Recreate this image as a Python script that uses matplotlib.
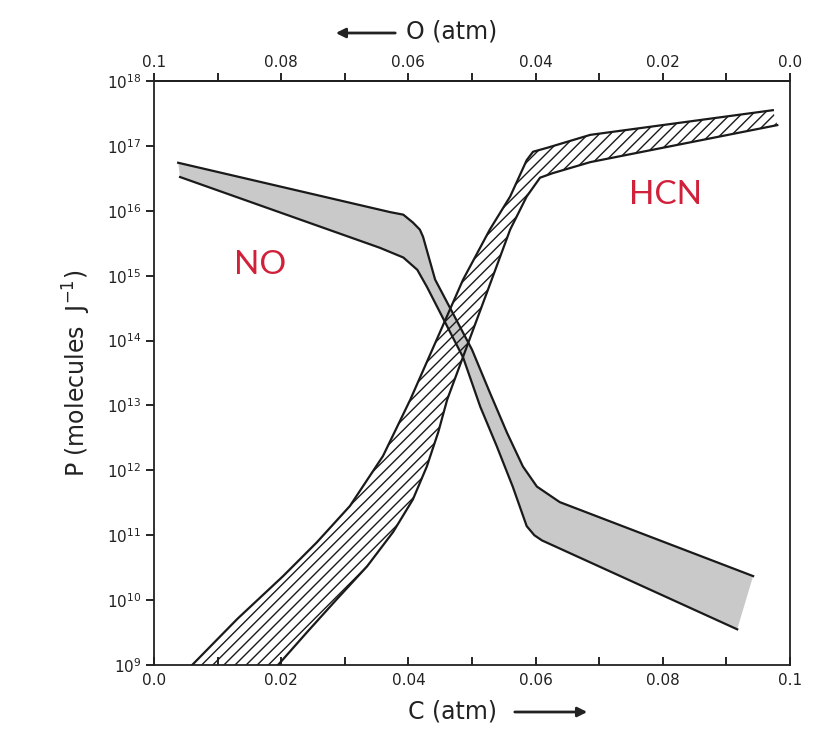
import numpy as np
import matplotlib
matplotlib.use("Agg")
import matplotlib.pyplot as plt

# ---- data ----
# NO band (grey): C (atm) and log10 P
no_upper_x = [0.0038, 0.0371, 0.0392, 0.0407, 0.0418, 0.0423, 0.0442, 0.0500, 0.0528,
              0.0555, 0.0580, 0.0602, 0.0638, 0.0942]
no_upper_logp = [16.74, 15.98, 15.94, 15.82, 15.71, 15.60, 14.94, 13.86, 13.20,
                 12.58, 12.06, 11.75, 11.51, 10.37]
no_lower_x = [0.0041, 0.0355, 0.0392, 0.0414, 0.0429, 0.0486, 0.0513, 0.0539, 0.0564,
              0.0586, 0.0598, 0.0610, 0.0917]
no_lower_logp = [16.52, 15.43, 15.28, 15.09, 14.83, 13.74, 12.98, 12.37, 11.75,
                 11.14, 11.00, 10.92, 9.55]

# HCN band (hatched)
hcn_upper_x = [0.0060, 0.0131, 0.0203, 0.0256, 0.0308, 0.0360, 0.0403, 0.0486,
               0.0528, 0.0560, 0.0586, 0.0596, 0.0618, 0.0686, 0.0973]
hcn_upper_logp = [9.00, 9.71, 10.37, 10.89, 11.45, 12.22, 13.09, 14.94,
                  15.71, 16.22, 16.78, 16.91, 16.97, 17.17, 17.55]
hcn_lower_x = [0.0195, 0.0241, 0.0288, 0.0335, 0.0376, 0.0407, 0.0429, 0.0447, 0.0461,
               0.0531, 0.0560, 0.0586, 0.0607, 0.0627, 0.0686, 0.0980]
hcn_lower_logp = [9.00, 9.51, 10.02, 10.52, 11.05, 11.55, 12.06, 12.59, 13.09,
                  14.94, 15.71, 16.22, 16.51, 16.58, 16.75, 17.32]

bottom_ticks = [0.0, 0.02, 0.04, 0.06, 0.08, 0.1]
bottom_labels = ["0.0", "0.02", "0.04", "0.06", "0.08", "0.1"]
top_ticks = [0.1, 0.08, 0.06, 0.04, 0.02, 0.0]
top_labels = ["0.1", "0.08", "0.06", "0.04", "0.02", "0.0"]
y_exps = list(range(9, 19))

# ---- plotting ----
plt.rcParams['font.family'] = ['DejaVu Sans']
plt.rcParams['hatch.linewidth'] = 1.0
fig = plt.figure(figsize=(8.17, 7.30), dpi=100)
ax = fig.add_axes([154/817, 65/730, 636/817, 584/730])

ink = '#1a1a1a'
nux = np.array(no_upper_x); nuy = 10.0 ** np.array(no_upper_logp)
nlx = np.array(no_lower_x); nly = 10.0 ** np.array(no_lower_logp)
hux = np.array(hcn_upper_x); huy = 10.0 ** np.array(hcn_upper_logp)
hlx = np.array(hcn_lower_x); hly = 10.0 ** np.array(hcn_lower_logp)

# NO grey band
ax.fill(np.concatenate([nux, nlx[::-1]]), np.concatenate([nuy, nly[::-1]]),
        facecolor='#c9c9c9', edgecolor='none', zorder=1)
ax.plot(nux, nuy, color=ink, lw=1.6, zorder=3, solid_joinstyle='round')
ax.plot(nlx, nly, color=ink, lw=1.6, zorder=3, solid_joinstyle='round')

# HCN hatched band
ax.fill(np.concatenate([hux, hlx[::-1]]), np.concatenate([huy, hly[::-1]]),
        facecolor='none', edgecolor=ink, hatch='///', linewidth=0, zorder=2)
ax.plot(hux, huy, color=ink, lw=1.6, zorder=3, solid_joinstyle='round')
ax.plot(hlx, hly, color=ink, lw=1.6, zorder=3, solid_joinstyle='round')

ax.set_yscale('log')
ax.set_xlim(0.0, 0.1)
ax.set_ylim(1e9, 1e18)

ax.set_yticks([10.0 ** e for e in y_exps])
ax.set_yticklabels([r'$10^{%d}$' % e for e in y_exps], fontsize=11, color='#222222')
ax.yaxis.set_minor_locator(matplotlib.ticker.NullLocator())
ax.tick_params(axis='y', direction='out', length=6, width=1.2, pad=3)

ax.set_xticks(bottom_ticks)
ax.set_xticklabels(bottom_labels, fontsize=11, color='#222222')
ax.set_xticks(np.arange(0.01, 0.1, 0.02), minor=True)
ax.tick_params(axis='x', which='both', direction='in', length=6, width=1.2, pad=6)

for s in ax.spines.values():
    s.set_linewidth(1.3)
    s.set_color('#222222')

sec = ax.secondary_xaxis('top', functions=(lambda c: 0.1 - c, lambda o: 0.1 - o))
sec.set_xticks(top_ticks)
sec.set_xticklabels(top_labels, fontsize=11, color='#222222')
sec.set_xticks(np.arange(0.01, 0.1, 0.02), minor=True)
sec.tick_params(axis='x', which='both', direction='out', length=6, width=1.2, pad=2)
sec.spines['top'].set_linewidth(1.3)

ax.text((260 - 154) / 636 * 0.1, 10 ** (18 - (265 - 81) / 65), 'NO',
        color='#d0203a', fontsize=24, ha='center', va='center', family='Lato')
ax.text((665 - 154) / 636 * 0.1, 10 ** (18 - (195 - 81) / 65), 'HCN',
        color='#d0203a', fontsize=24, ha='center', va='center', family='Lato')

ax.set_ylabel(r'P (molecules  J$^{-1}$)', fontsize=17, color='#222222', labelpad=10)

# bottom axis title with arrow
fig.text(452 / 817, 1 - 712 / 730, 'C (atm)', fontsize=17, ha='center', va='center', color='#222222')
ax.annotate('', xy=(590 / 817, 1 - 712 / 730), xytext=(512 / 817, 1 - 712 / 730),
            xycoords='figure fraction', textcoords='figure fraction',
            arrowprops=dict(arrowstyle='-|>', color='#222222', lw=2.0, mutation_scale=14))
# top axis title with arrow
fig.text(452 / 817, 1 - 32 / 730, 'O (atm)', fontsize=17, ha='center', va='center', color='#222222')
ax.annotate('', xy=(333 / 817, 1 - 33 / 730), xytext=(398 / 817, 1 - 33 / 730),
            xycoords='figure fraction', textcoords='figure fraction',
            arrowprops=dict(arrowstyle='-|>', color='#222222', lw=2.0, mutation_scale=14))

fig.savefig('out.png', dpi=100)
